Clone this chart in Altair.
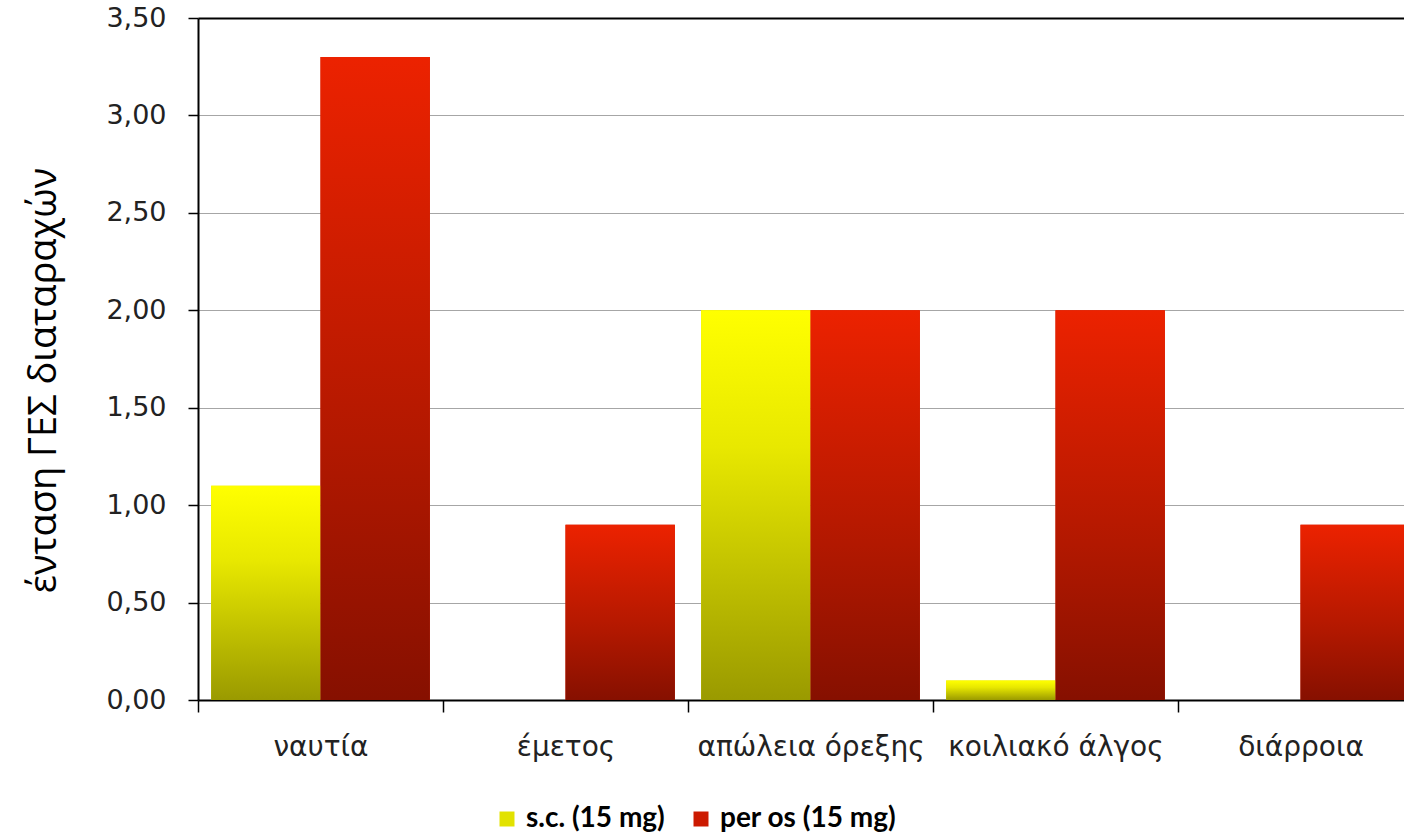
import altair as alt
import pandas as pd

# Symptom categories and mean intensity per administration route
categories = ["ναυτία", "έμετος", "απώλεια όρεξης", "κοιλιακό άλγος", "διάρροια"]
series_names = ["s.c. (15 mg)", "per os (15 mg)"]
sc_values = [1.10, 0.00, 2.00, 0.10, 0.00]
peros_values = [3.30, 0.90, 2.00, 2.00, 0.90]
y_ticks = [0.0, 0.5, 1.0, 1.5, 2.0, 2.5, 3.0, 3.5]

rows = []
for cat, a, b in zip(categories, sc_values, peros_values):
    rows.append({"category": cat, "series": series_names[0], "value": a})
    rows.append({"category": cat, "series": series_names[1], "value": b})
df = pd.DataFrame(rows)

yellow_grad = {
    "gradient": "linear", "x1": 0, "y1": 0, "x2": 0, "y2": 1,
    "stops": [
        {"offset": 0, "color": "#ffff00"},
        {"offset": 0.35, "color": "#e8e800"},
        {"offset": 1, "color": "#9a9a00"},
    ],
}
red_grad = {
    "gradient": "linear", "x1": 0, "y1": 0, "x2": 0, "y2": 1,
    "stops": [
        {"offset": 0, "color": "#ec2200"},
        {"offset": 0.6, "color": "#b21800"},
        {"offset": 1, "color": "#861000"},
    ],
}

# The category band runs past the right edge of the visible plot area
x_enc = alt.X(
    "category:N",
    sort=categories,
    scale=alt.Scale(paddingInner=0, paddingOuter=0, range=[0, 1225]),
    axis=alt.Axis(
        title=None,
        labelAngle=0,
        labelFont="DejaVu Sans",
        labelFontSize=28,
        labelColor="#222222",
        labelPadding=21,
        labelLimit=0,
        tickBand="extent",
        tickSize=12,
        tickColor="#000000",
        tickWidth=1.5,
        domainColor="#000000",
        domainWidth=2,
        grid=False,
    ),
)
xoff_enc = alt.XOffset(
    "series:N",
    sort=series_names,
    scale=alt.Scale(paddingInner=0, paddingOuter=0.12),
)
y_enc = alt.Y(
    "value:Q",
    scale=alt.Scale(domain=[0, 3.5], nice=False),
    axis=alt.Axis(
        title="ένταση ΓΕΣ διαταραχών",
        titleFont="Open Sans",
        titleFontSize=38,
        titleFontWeight="normal",
        titleColor="#000000",
        titlePadding=42,
        titleY=362,
        values=y_ticks,
        labelExpr="replace(format(datum.value, '.2f'), '.', ',')",
        labelFont="DejaVu Sans",
        labelFontSize=27,
        labelColor="#222222",
        labelPadding=22,
        tickSize=10,
        tickColor="#000000",
        tickWidth=1.5,
        domainColor="#000000",
        domainWidth=2,
        gridColor={
            "condition": {"test": "datum.value == 3.5", "value": "#000000"},
            "value": "#a6a6a6",
        },
        gridWidth={
            "condition": {"test": "datum.value == 3.5", "value": 2},
            "value": 1.2,
        },
    ),
)

# Solid bars carry the legend; gradient bars are drawn over them
legend_bars = alt.Chart(df).mark_bar().encode(
    x=x_enc,
    xOffset=xoff_enc,
    y=y_enc,
    color=alt.Color(
        "series:N",
        sort=series_names,
        scale=alt.Scale(domain=series_names, range=["#e2e200", "#cc1a00"]),
        legend=alt.Legend(
            title=None,
            orient="none",
            direction="horizontal",
            legendX=295,
            legendY=787,
            labelFont="Lato",
            labelFontWeight="bold",
            labelFontSize=28,
            labelColor="#000000",
            labelLimit=0,
            symbolType="square",
            symbolSize=225,
            symbolStrokeWidth=0,
            columnPadding=22,
            labelOffset=5,
        ),
    ),
)

gradient_bars = alt.Chart(df).mark_bar().encode(
    x=x_enc,
    xOffset=xoff_enc,
    y=y_enc,
    color=alt.condition(
        alt.datum.series == series_names[0],
        alt.value(yellow_grad),
        alt.value(red_grad),
    ),
)

chart = (
    alt.layer(legend_bars, gradient_bars)
    .properties(
        width=1206,
        height=682,
        background="#ffffff",
        autosize=alt.AutoSizeParams(type="none"),
        padding={"left": 198, "top": 18, "right": 0, "bottom": 136},
    )
    .configure_view(stroke=None)
)

chart.save("out.html", embed_options={"renderer": "svg", "actions": False})
